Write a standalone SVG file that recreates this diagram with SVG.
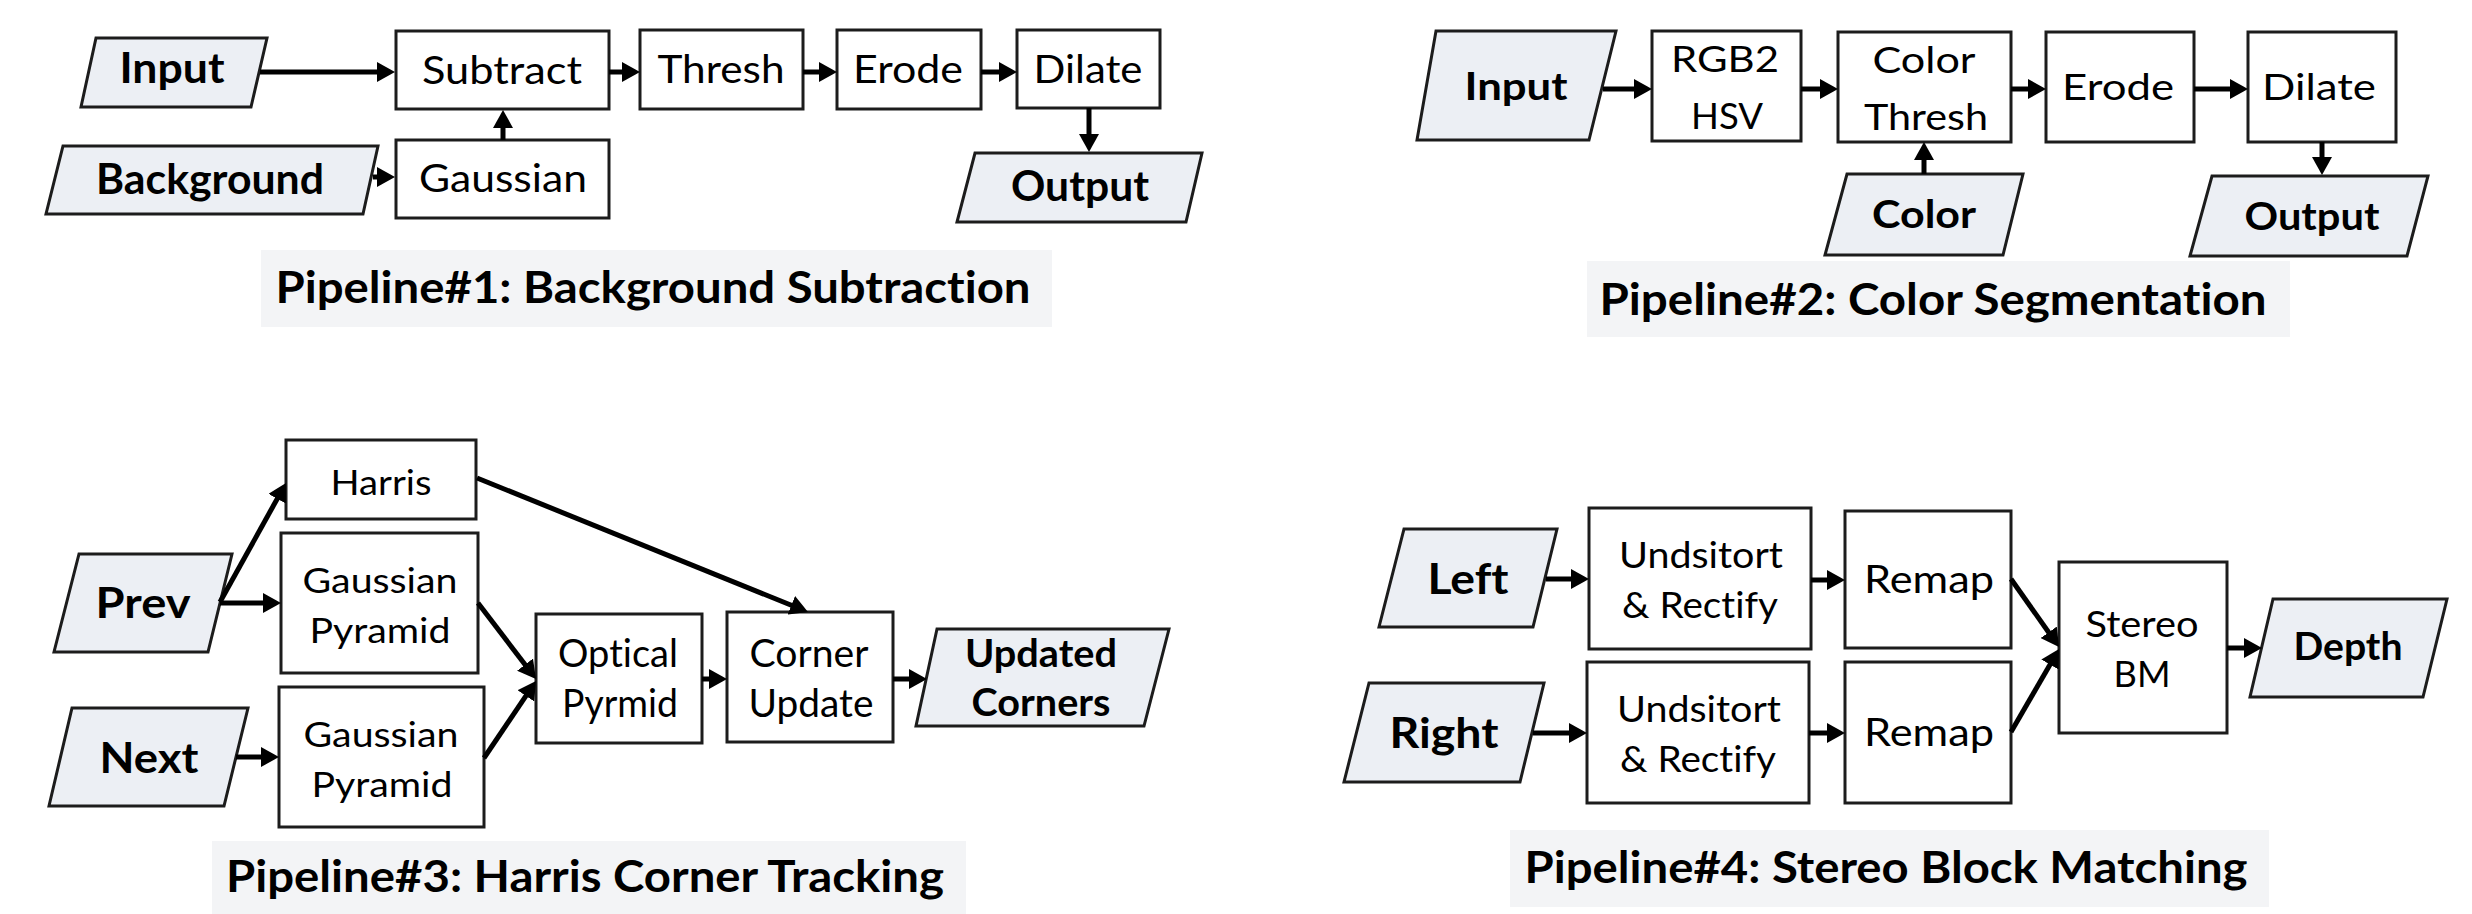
<svg xmlns="http://www.w3.org/2000/svg" width="2472" height="914" viewBox="0 0 2472 914">
<defs>
<style>
.box{fill:#ffffff;stroke:#1c1c1c;stroke-width:3}
.io{fill:#eceff4;stroke:#1c1c1c;stroke-width:3}
.tb{fill:#f3f4f6}
text{font-family:Lato,"Open Sans","Liberation Sans",sans-serif;fill:#000;text-anchor:middle;font-variant-ligatures:none;font-feature-settings:"liga" 0,"clig" 0}
.b{font-weight:700}
.r1{font-size:38px}
.r2{font-size:36px}
.r3{font-size:35px}
.r4{font-size:36px}
.bl{font-size:42px;font-weight:700}
.bm{font-size:39px;font-weight:700}
.tt{font-size:44px;font-weight:700}
.conn line{stroke:#000;stroke-width:5;marker-end:url(#ah)}
</style>
<marker id="ah" markerUnits="userSpaceOnUse" markerWidth="18" markerHeight="20" viewBox="0 0 18 20" refX="10" refY="10" orient="auto">
<path d="M0,0 L18,10 L0,20 z" fill="#000"/>
</marker>
</defs>

<!-- Pipeline 1 -->
<g id="p1-title"><rect class="tb" x="261" y="250" width="791" height="77"/><text class="tt" x="653" y="303" textLength="755" lengthAdjust="spacingAndGlyphs">Pipeline#1: Background Subtraction</text></g>
<g id="p1-input"><polygon class="io" points="96,38 267,38 251,107 81,107"/><text class="bl" x="172" y="83" textLength="105" lengthAdjust="spacingAndGlyphs">Input</text></g>
<g id="p1-background"><polygon class="io" points="63,146 378,146 363,214 46,214"/><text class="bl" x="210" y="194" textLength="228" lengthAdjust="spacingAndGlyphs">Background</text></g>
<g id="p1-subtract"><rect class="box" x="396" y="31" width="213" height="78"/><text class="r1" x="502" y="84" textLength="160" lengthAdjust="spacingAndGlyphs">Subtract</text></g>
<g id="p1-gaussian"><rect class="box" x="396" y="140" width="213" height="78"/><text class="r1" x="503" y="192" textLength="168" lengthAdjust="spacingAndGlyphs">Gaussian</text></g>
<g id="p1-thresh"><rect class="box" x="640" y="30" width="163" height="79"/><text class="r1" x="721" y="83" textLength="127" lengthAdjust="spacingAndGlyphs">Thresh</text></g>
<g id="p1-erode"><rect class="box" x="837" y="30" width="144" height="79"/><text class="r1" x="908" y="83" textLength="110" lengthAdjust="spacingAndGlyphs">Erode</text></g>
<g id="p1-dilate"><rect class="box" x="1017" y="30" width="143" height="78"/><text class="r1" x="1088" y="83" textLength="109" lengthAdjust="spacingAndGlyphs">Dilate</text></g>
<g id="p1-output"><polygon class="io" points="975,153 1202,153 1186,222 957,222"/><text class="bl" x="1080" y="201" textLength="138" lengthAdjust="spacingAndGlyphs">Output</text></g>

<!-- Pipeline 2 -->
<g id="p2-title"><rect class="tb" x="1587" y="261" width="703" height="76"/><text class="tt" x="1933" y="315" textLength="667" lengthAdjust="spacingAndGlyphs">Pipeline#2: Color Segmentation</text></g>
<g id="p2-input"><polygon class="io" points="1436,31 1616,31 1589,140 1417,140"/><text class="bm" x="1516" y="100" textLength="103" lengthAdjust="spacingAndGlyphs">Input</text></g>
<g id="p2-rgb2hsv"><rect class="box" x="1652" y="31" width="149" height="110"/><text class="r2" x="1725" y="72" textLength="108" lengthAdjust="spacingAndGlyphs">RGB2</text><text class="r2" x="1727" y="129" textLength="72" lengthAdjust="spacingAndGlyphs">HSV</text></g>
<g id="p2-colorthresh"><rect class="box" x="1838" y="32" width="173" height="110"/><text class="r2" x="1924" y="73" textLength="103" lengthAdjust="spacingAndGlyphs">Color</text><text class="r2" x="1926" y="130" textLength="124" lengthAdjust="spacingAndGlyphs">Thresh</text></g>
<g id="p2-color"><polygon class="io" points="1847,174 2023,174 2003,255 1825,255"/><text class="bm" x="1924" y="228" textLength="104" lengthAdjust="spacingAndGlyphs">Color</text></g>
<g id="p2-erode"><rect class="box" x="2046" y="32" width="148" height="110"/><text class="r2" x="2118" y="100" textLength="112" lengthAdjust="spacingAndGlyphs">Erode</text></g>
<g id="p2-dilate"><rect class="box" x="2248" y="32" width="148" height="110"/><text class="r2" x="2319" y="100" textLength="114" lengthAdjust="spacingAndGlyphs">Dilate</text></g>
<g id="p2-output"><polygon class="io" points="2212,176 2428,176 2407,256 2190,256"/><text class="bm" x="2312" y="230" textLength="135" lengthAdjust="spacingAndGlyphs">Output</text></g>

<!-- Pipeline 3 -->
<g id="p3-title"><rect class="tb" x="212" y="841" width="754" height="73"/><text class="tt" x="585" y="892" textLength="718" lengthAdjust="spacingAndGlyphs">Pipeline#3: Harris Corner Tracking</text></g>
<g id="p3-prev"><polygon class="io" points="79,554 232,554 208,652 54,652"/><text class="bl" x="143" y="618" textLength="95" lengthAdjust="spacingAndGlyphs">Prev</text></g>
<g id="p3-next"><polygon class="io" points="72,708 248,708 224,806 49,806"/><text class="bl" x="149" y="773" textLength="99" lengthAdjust="spacingAndGlyphs">Next</text></g>
<g id="p3-harris"><rect class="box" x="286" y="440" width="190" height="79"/><text class="r3" x="381" y="495" textLength="101" lengthAdjust="spacingAndGlyphs">Harris</text></g>
<g id="p3-gp1"><rect class="box" x="281" y="533" width="197" height="140"/><text class="r3" x="380" y="593" textLength="155" lengthAdjust="spacingAndGlyphs">Gaussian</text><text class="r3" x="380" y="643" textLength="141" lengthAdjust="spacingAndGlyphs">Pyramid</text></g>
<g id="p3-gp2"><rect class="box" x="279" y="687" width="205" height="140"/><text class="r3" x="381" y="747" textLength="155" lengthAdjust="spacingAndGlyphs">Gaussian</text><text class="r3" x="382" y="797" textLength="141" lengthAdjust="spacingAndGlyphs">Pyramid</text></g>
<g id="p3-optical"><rect class="box" x="536" y="614" width="166" height="129"/><text class="r1" x="618" y="667" textLength="120" lengthAdjust="spacingAndGlyphs">Optical</text><text class="r1" x="620" y="717" textLength="116" lengthAdjust="spacingAndGlyphs">Pyrmid</text></g>
<g id="p3-corner"><rect class="box" x="727" y="612" width="166" height="130"/><text class="r1" x="809" y="667" textLength="119" lengthAdjust="spacingAndGlyphs">Corner</text><text class="r1" x="811" y="717" textLength="125" lengthAdjust="spacingAndGlyphs">Update</text></g>
<g id="p3-updated"><polygon class="io" points="937,629 1169,629 1144,726 916,726"/><text class="bm" x="1041" y="667" textLength="152" lengthAdjust="spacingAndGlyphs">Updated</text><text class="bm" x="1041" y="716" textLength="139" lengthAdjust="spacingAndGlyphs">Corners</text></g>

<!-- Pipeline 4 -->
<g id="p4-title"><rect class="tb" x="1510" y="830" width="759" height="77"/><text class="tt" x="1886" y="883" textLength="723" lengthAdjust="spacingAndGlyphs">Pipeline#4: Stereo Block Matching</text></g>
<g id="p4-left"><polygon class="io" points="1404,529 1557,529 1533,627 1379,627"/><text class="bl" x="1468" y="594" textLength="81" lengthAdjust="spacingAndGlyphs">Left</text></g>
<g id="p4-right"><polygon class="io" points="1369,683 1544,683 1520,782 1344,782"/><text class="bl" x="1444" y="748" textLength="109" lengthAdjust="spacingAndGlyphs">Right</text></g>
<g id="p4-und1"><rect class="box" x="1589" y="508" width="222" height="141"/><text class="r4" x="1701" y="568" textLength="164" lengthAdjust="spacingAndGlyphs">Undsitort</text><text class="r4" x="1700" y="618" textLength="156" lengthAdjust="spacingAndGlyphs">&amp; Rectify</text></g>
<g id="p4-und2"><rect class="box" x="1587" y="662" width="222" height="141"/><text class="r4" x="1699" y="722" textLength="164" lengthAdjust="spacingAndGlyphs">Undsitort</text><text class="r4" x="1698" y="772" textLength="156" lengthAdjust="spacingAndGlyphs">&amp; Rectify</text></g>
<g id="p4-remap1"><rect class="box" x="1845" y="511" width="166" height="137"/><text class="r1" x="1929" y="593" textLength="130" lengthAdjust="spacingAndGlyphs">Remap</text></g>
<g id="p4-remap2"><rect class="box" x="1845" y="662" width="166" height="141"/><text class="r1" x="1929" y="746" textLength="130" lengthAdjust="spacingAndGlyphs">Remap</text></g>
<g id="p4-stereo"><rect class="box" x="2059" y="562" width="168" height="171"/><text class="r4" x="2142" y="637" textLength="113" lengthAdjust="spacingAndGlyphs">Stereo</text><text class="r4" x="2142" y="687" textLength="57" lengthAdjust="spacingAndGlyphs">BM</text></g>
<g id="p4-depth"><polygon class="io" points="2273,599 2447,599 2423,697 2250,697"/><text class="bm" x="2348" y="660" textLength="109" lengthAdjust="spacingAndGlyphs">Depth</text></g>

<g id="connectors" class="conn">
<line x1="260" y1="72" x2="387" y2="72"/>
<line x1="609" y1="72" x2="632" y2="72"/>
<line x1="803" y1="72" x2="829" y2="72"/>
<line x1="981" y1="72" x2="1009" y2="72"/>
<line x1="1089" y1="108" x2="1089" y2="144"/>
<line x1="373" y1="177" x2="387" y2="177"/>
<line x1="503" y1="140" x2="503" y2="118"/>

<line x1="1603" y1="89" x2="1644" y2="89"/>
<line x1="1801" y1="89" x2="1830" y2="89"/>
<line x1="2011" y1="89" x2="2038" y2="89"/>
<line x1="2194" y1="89" x2="2240" y2="89"/>
<line x1="2322" y1="142" x2="2322" y2="167"/>
<line x1="1924" y1="174" x2="1924" y2="150"/>

<line x1="220" y1="602" x2="282.1" y2="490"/>
<line x1="220" y1="603" x2="273" y2="603"/>
<line x1="236" y1="757" x2="271" y2="757"/>
<line x1="478" y1="603" x2="531.1" y2="672.6"/>
<line x1="484" y1="758" x2="531.5" y2="687.6"/>
<line x1="477" y1="478" x2="800.6" y2="609"/>
<line x1="702" y1="679" x2="719" y2="679"/>
<line x1="893" y1="679" x2="919" y2="679"/>

<line x1="1546" y1="579" x2="1581" y2="579"/>
<line x1="1811" y1="580" x2="1837" y2="580"/>
<line x1="1533" y1="733" x2="1579" y2="733"/>
<line x1="1809" y1="733" x2="1837" y2="733"/>
<line x1="2011" y1="579" x2="2054.4" y2="640.5"/>
<line x1="2011" y1="732" x2="2055" y2="655.9"/>
<line x1="2227" y1="648" x2="2254" y2="648"/>
</g>
</svg>
